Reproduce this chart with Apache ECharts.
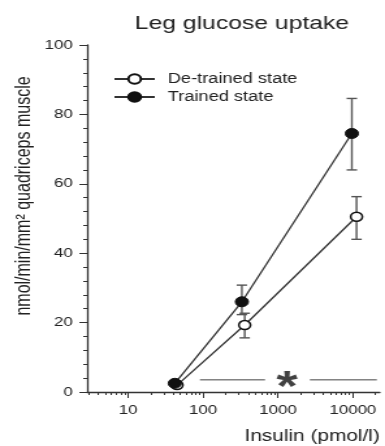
<!DOCTYPE html>
<html>
<head>
<meta charset="utf-8">
<script src="https://cdn.jsdelivr.net/npm/echarts@6/dist/echarts.min.js"></script>
<style>
  html, body { margin: 0; padding: 0; background: #fff; overflow: hidden; }
  /* the source figure is stretched sideways, so draw narrow and widen */
  #chart { width: 296px; height: 446px; transform: scaleX(1.3007); transform-origin: 0 0; }
</style>
</head>
<body>
<div id="chart"></div>
<script>
const FONT = '"Liberation Sans", Arial, sans-serif';

// insulin (pmol/l) and leg glucose uptake (nmol/min/mm2)
const insulinDetrained = [45, 360, 11200];
const uptakeDetrained = [2.0, 19.3, 50.5];
const lowDetrained = [null, 15.6, 44];
const highDetrained = [null, 22.7, 56.3];

const insulinTrained = [42, 330, 9700];
const uptakeTrained = [2.5, 26, 74.5];
const lowTrained = [null, 22.3, 64];
const highTrained = [null, 30.8, 84.6];

// significance bar with the star
const sigY = 3.5;
const sigSegments = [[91, 672], [2670, 20900]];
const starX = 1318;

const xMajorTicks = [10, 100, 1000, 10000];
const yTicks = [0, 20, 40, 60, 80, 100];

const xMin = 2.84, xMax = 22900;
const xMinorTicks = [];
for (let d = 1; d <= 10000; d *= 10) {
  for (let k = 2; k <= 9; k++) {
    const v = k * d;
    if (v > xMin && v < xMax) xMinorTicks.push(v);
  }
}

const pairs = (xs, ys) => xs.map((x, i) => [x, ys[i]]);
const bars = (xs, lo, hi) => xs.map((x, i) => [x, lo[i], hi[i]]).filter(d => d[1] != null);

const sigData = [];
sigSegments.forEach((s, i) => {
  if (i > 0) sigData.push([null, null]);
  sigData.push([s[0], sigY], [s[1], sigY]);
});

function renderErrorBar(params, api) {
  const x = api.value(0);
  const lo = api.coord([x, api.value(1)]);
  const hi = api.coord([x, api.value(2)]);
  const w = 4;
  const style = { stroke: '#555', lineWidth: 1.4 };
  return {
    type: 'group',
    children: [
      { type: 'line', shape: { x1: lo[0], y1: lo[1], x2: hi[0], y2: hi[1] }, style },
      { type: 'line', shape: { x1: hi[0] - w, y1: hi[1], x2: hi[0] + w, y2: hi[1] }, style },
      { type: 'line', shape: { x1: lo[0] - w, y1: lo[1], x2: lo[0] + w, y2: lo[1] }, style }
    ]
  };
}

const chart = echarts.init(document.getElementById('chart'));

const option = {
  backgroundColor: '#fff',
  animation: false,
  textStyle: { fontFamily: FONT },
  grid: { left: 67, right: 4, top: 45, bottom: 54 },
  legend: {
    orient: 'vertical',
    left: 82,
    top: 67,
    itemWidth: 31,
    itemHeight: 12,
    itemGap: 4,
    data: ['De-trained state', 'Trained state'],
    textStyle: { fontSize: 14, color: '#222', fontFamily: FONT, padding: [0, 0, 0, 5] }
  },
  graphic: [
    {
      type: 'text', x: 186, y: 24,
      style: { text: 'Leg glucose uptake', font: '19px ' + FONT, fill: '#222', textAlign: 'center', textVerticalAlign: 'middle' }
    },
    {
      type: 'text', x: 18.5, y: 196, rotation: Math.PI / 2,
      style: { text: 'nmol/min/mm² quadriceps muscle', font: '16px ' + FONT, fill: '#222', textAlign: 'center', textVerticalAlign: 'middle' }
    },
    {
      type: 'text', x: 292, y: 437,
      style: { text: 'Insulin (pmol/l)', font: '16px ' + FONT, fill: '#222', textAlign: 'right', textVerticalAlign: 'middle' }
    }
  ],
  xAxis: [
    {
      type: 'log', min: xMin, max: xMax, position: 'bottom',
      axisLine: { lineStyle: { color: '#333', width: 1.3 } },
      axisTick: { customValues: xMajorTicks, length: 6, lineStyle: { color: '#333' } },
      axisLabel: { customValues: xMajorTicks, margin: 12, fontSize: 13, color: '#222', fontFamily: FONT,
        formatter: v => String(Math.round(v)) },
      splitLine: { show: false }
    },
    {
      type: 'log', min: xMin, max: xMax, position: 'bottom',
      axisLine: { show: false },
      axisTick: { customValues: xMinorTicks, length: 3, lineStyle: { color: '#333' } },
      axisLabel: { show: false },
      splitLine: { show: false }
    }
  ],
  yAxis: {
    type: 'value', min: 0, max: 100, interval: 20,
    axisLine: { show: true, lineStyle: { color: '#333', width: 1.3 } },
    axisTick: { show: true, length: 6, lineStyle: { color: '#333' } },
    minorTick: { show: true, splitNumber: 5, length: 3, lineStyle: { color: '#333' } },
    axisLabel: { margin: 11, fontSize: 13, color: '#222', fontFamily: FONT,
      formatter: v => (yTicks.includes(v) ? String(v) : '') },
    splitLine: { show: false }
  },
  series: [
    {
      type: 'custom', name: 'errDetrained', xAxisIndex: 0, z: 1,
      renderItem: renderErrorBar, encode: { x: 0, y: [1, 2] },
      data: bars(insulinDetrained, lowDetrained, highDetrained)
    },
    {
      type: 'custom', name: 'errTrained', xAxisIndex: 0, z: 1,
      renderItem: renderErrorBar, encode: { x: 0, y: [1, 2] },
      data: bars(insulinTrained, lowTrained, highTrained)
    },
    {
      name: 'De-trained state', type: 'line', xAxisIndex: 0, z: 3,
      symbol: 'circle', symbolSize: 9,
      lineStyle: { color: '#333', width: 1.3 },
      itemStyle: { color: '#fff', borderColor: '#111', borderWidth: 1.5 },
      data: pairs(insulinDetrained, uptakeDetrained)
    },
    {
      name: 'Trained state', type: 'line', xAxisIndex: 0, z: 4,
      symbol: 'circle', symbolSize: 10,
      lineStyle: { color: '#333', width: 1.3 },
      itemStyle: { color: '#111', borderColor: '#111', borderWidth: 1 },
      data: pairs(insulinTrained, uptakeTrained)
    },
    {
      name: 'sig', type: 'line', xAxisIndex: 0, z: 2,
      symbol: 'none', connectNulls: false,
      lineStyle: { color: '#444', width: 1 },
      data: sigData
    },
    {
      name: 'star', type: 'scatter', xAxisIndex: 0, z: 2,
      symbolSize: 0,
      label: { show: true, formatter: '*', position: 'inside', offset: [0, 9],
        fontSize: 42, fontWeight: 'bold', color: '#111', fontFamily: FONT },
      data: [[starX, sigY]]
    }
  ]
};

chart.setOption(option);
</script>
</body>
</html>
